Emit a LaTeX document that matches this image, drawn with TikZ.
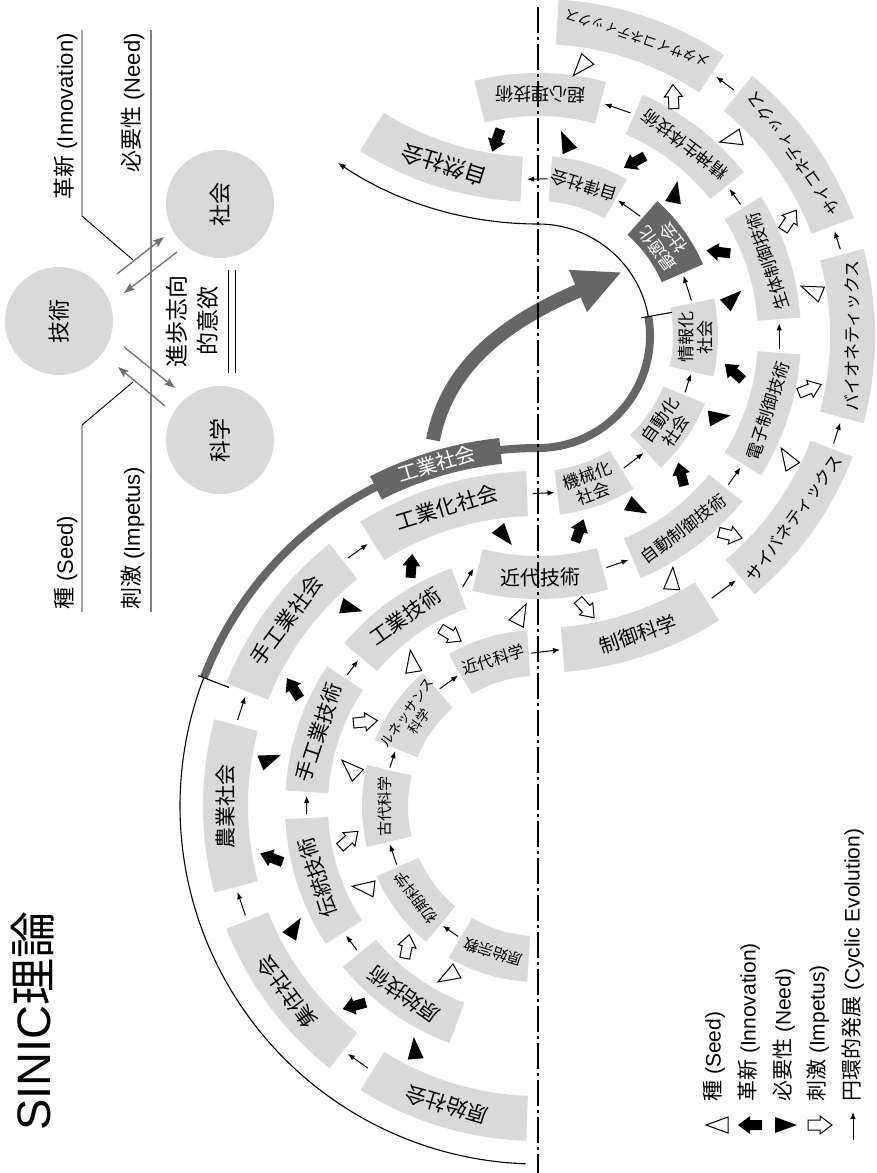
\documentclass[tikz,border=0pt]{standalone}
\usepackage{fontspec}
\setmainfont{Liberation Sans}
\newfontfamily\jp{Noto Sans CJK JP}
\usetikzlibrary{arrows.meta}
\definecolor{boxgray}{RGB}{217,217,217}
\definecolor{darkg}{RGB}{102,102,102}
\definecolor{arrg}{RGB}{112,112,112}
\newcommand\fsz[1]{\fontsize{#1}{#1}\selectfont}
\newcommand\fszl[2]{\fontsize{#1}{#2}\selectfont}
\tikzset{
  boxfill/.style={fill=boxgray},
  boxtext/.style={inner sep=0pt, align=center, text=black},
  evo/.style={line width=1pt, -{Latex[length=7pt,width=5.5pt]}},
  legarr/.style={arrg, line width=1.3pt, -{Stealth[length=11pt,width=8pt,inset=2pt]}},
  seedmk/.pic={\draw[line width=1pt, fill=white, line join=miter] (11,0) -- (-11,8) -- (-11,-8) -- cycle;},
  needmk/.pic={\fill[black] (11,0) -- (-11,8) -- (-11,-8) -- cycle;},
  innmk/.pic={\fill[black] (12,0) -- (0,9) -- (0,5) -- (-12,5) -- (-12,-5) -- (0,-5) -- (0,-9) -- cycle;},
  impmk/.pic={\draw[line width=1pt, fill=white, line join=miter] (12,0) -- (0,9) -- (0,5) -- (-12,5) -- (-12,-5) -- (0,-5) -- (0,-9) -- cycle;},
}
\newcommand\ringbox[9]{%
  \pgfmathsetmacro\rbA{#3-#4}%
  \pgfmathsetmacro\rbB{#3+#4}%
  \pgfmathsetmacro\rbM{(#5+#6)/2}%
  \pgfmathsetmacro\rbR{#3+#7}%
  \fill[boxfill] ([shift={(\rbA:#5pt)}]#2) arc[start angle=\rbA, end angle=\rbB, radius=#5pt]
    -- ([shift={(\rbB:#6pt)}]#2) arc[start angle=\rbB, end angle=\rbA, radius=#6pt] -- cycle;
  \node[boxtext, font=#8, rotate=\rbR] (#1) at ([shift={(#3:\rbM pt)}]#2) {#9};}
\newcommand\rarr[4]{\draw[evo] ([shift={(#2:#4pt)}]#1) -- ([shift={(#3:#4pt)}]#1);}
\newcommand\mkA[3]{\path ([shift={(#2:#3pt)}]C1) pic[rotate={#2-32}] {#1};}
\newcommand\mkB[3]{\path ([shift={(#2:#3pt)}]C1) pic[rotate={#2+212}] {#1};}
\newcommand\mkC[3]{\path ([shift={(#2:#3pt)}]C2) pic[rotate={#2+32}] {#1};}
\newcommand\mkD[3]{\path ([shift={(#2:#3pt)}]C2) pic[rotate={#2+148}] {#1};}
\begin{document}
\begin{tikzpicture}[x=1pt,y=1pt]
\useasboundingbox (0,0) rectangle (877,-1173);
\fill[white] (0,0) rectangle (877,-1173);
\coordinate (C1) at (538,-806);
\coordinate (C2) at (538,-336);
\coordinate (C3) at (538,134);

% ---------- ring boxes, first half (C1) ----------
\ringbox{s1}{C1}{253}{15}{290}{335}{-90}{\jp\fsz{21}}{原始社会}
\ringbox{s2}{C1}{216.5}{15}{290}{335}{-90}{\jp\fsz{21}}{集住社会}
\ringbox{s3}{C1}{180}{15}{290}{335}{-90}{\jp\fsz{21}}{農業社会}
\ringbox{s4}{C1}{143.5}{15}{290}{335}{-90}{\jp\fsz{21}}{手工業社会}
\ringbox{s5}{C1}{107}{15}{290}{335}{-90}{\jp\fsz{21}}{工業化社会}
\ringbox{t1}{C1}{234.5}{15}{210}{253}{-90}{\jp\fsz{20.5}}{原始技術}
\ringbox{t2}{C1}{198}{15}{210}{253}{-90}{\jp\fsz{20.5}}{伝統技術}
\ringbox{t3}{C1}{161.5}{15}{210}{253}{-90}{\jp\fsz{20.5}}{手工業技術}
\ringbox{t4}{C1}{125}{15}{210}{253}{-90}{\jp\fsz{20.5}}{工業技術}
\ringbox{k1}{C1}{253}{13.5}{130}{176}{-90}{\jp\fsz{15}}{原始宗教}
\ringbox{k2}{C1}{217}{13.5}{130}{176}{-90}{\jp\fsz{15}}{初期科学}
\ringbox{k3}{C1}{180}{13.5}{130}{176}{-90}{\jp\fsz{15}}{古代科学}
\ringbox{k4}{C1}{144.5}{13.5}{130}{176}{-90}{\jp\fszl{13.5}{15}}{ルネッサンス\\科学}
\ringbox{k5}{C1}{107}{13.5}{130}{176}{-90}{\jp\fsz{16}}{近代科学}

% ---------- ring boxes, second half (C2) ----------
\ringbox{s6}{C2}{289.5}{12.5}{135}{180}{90}{\jp\fszl{17}{19}}{機械化\\社会}
\ringbox{s7}{C2}{325.5}{12.5}{135}{180}{90}{\jp\fszl{17}{19}}{自動化\\社会}
\ringbox{s8}{C2}{359.5}{12.5}{135}{180}{90}{\jp\fszl{17}{19}}{情報化\\社会}
\ringbox{s10}{C2}{73}{12.5}{135}{180}{90}{\jp\fsz{17}}{自律社会}
\begin{scope}[boxfill/.style={fill=darkg}, boxtext/.append style={text=white}]
\ringbox{s9}{C2}{36}{12.5}{135}{180}{90}{\jp\fszl{17}{19}}{最適化\\社会}
\end{scope}
\ringbox{t5}{C2}{270.5}{15}{220}{263}{90}{\jp\fsz{20}}{近代技術}
\ringbox{t6}{C2}{307}{14}{220}{263}{90}{\jp\fsz{17}}{自動制御技術}
\ringbox{t7}{C2}{342}{14}{220}{263}{90}{\jp\fsz{17}}{電子制御技術}
\ringbox{t8}{C2}{18}{14}{220}{263}{90}{\jp\fsz{17}}{生体制御技術}
\ringbox{t9}{C2}{52.5}{14}{220}{263}{90}{\jp\fsz{17}}{精神生体技術}
\ringbox{t10}{C2}{89.5}{14.5}{220}{263}{90}{\jp\fsz{18}}{超心理技術}
\ringbox{k6}{C2}{288.5}{14}{292}{337}{90}{\jp\fsz{20}}{制御科学}
\ringbox{k7}{C2}{324.5}{14.5}{292}{337}{90}{\jp\fsz{17}}{サイバネティックス}
\ringbox{k8}{C2}{0}{15}{292}{337}{90}{\jp\fsz{17}}{バイオネティックス}
\ringbox{k9}{C2}{35.5}{15}{292}{337}{90}{\jp\fsz{16.5}}{サイコネティックス}
\ringbox{k10}{C2}{71.5}{15}{292}{337}{90}{\jp\fsz{14}}{メタサイコネティックス}

% ---------- third turn (C3) ----------
\ringbox{s11}{C3}{252.5}{14.5}{291}{336}{-90}{\jp\fsz{22}}{自然社会}

% ---------- cyclic evolution line ----------
\draw[line width=1.1pt] ([shift={(268:358pt)}]C1) arc[start angle=268, end angle=159, radius=358pt];
\draw[darkg, line width=8pt] ([shift={(159:358pt)}]C1) arc[start angle=159, end angle=116, radius=358pt];
\draw[darkg, line width=8pt] ([shift={(97:358pt)}]C1) arc[start angle=97, end angle=90, radius=358pt]
   arc[start angle=270, end angle=370, radius=112pt];
\draw[line width=1.1pt, -{Latex[length=8pt,width=6pt]}] ([shift={(10:112pt)}]C2) arc[start angle=10, end angle=90, radius=112pt]
   arc[start angle=270, end angle=236, radius=358pt];
\draw[line width=1.1pt] ([shift={(159:331pt)}]C1) -- ([shift={(159:364pt)}]C1);
\draw[line width=1.1pt] ([shift={(10:105pt)}]C2) -- ([shift={(10:136pt)}]C2);
\begin{scope}[boxfill/.style={fill=darkg}, boxtext/.append style={text=white}]
\ringbox{ind}{C1}{106.5}{10.5}{344}{370}{-90}{\jp\fsz{20}}{工業社会}
\end{scope}
\draw[darkg, line width=14pt, -{Triangle[length=48pt,width=42pt]}] (433,-440) .. controls (448,-360) and (515,-318) .. (622,-272);

% ---------- thin arrows along rings ----------
\rarr{C1}{237}{232.5}{312.5}
\rarr{C1}{200.5}{196}{312.5}
\rarr{C1}{164}{159.5}{312.5}
\rarr{C1}{127.5}{123}{312.5}
\draw[evo] ([shift={(91:312.5pt)}]C1) -- ([shift={(276:157.5pt)}]C2);
\rarr{C2}{303}{312}{157.5}
\rarr{C2}{339}{346}{157.5}
\rarr{C2}{13}{22.5}{157.5}
\rarr{C2}{49.5}{59.5}{157.5}
\draw[evo] ([shift={(86.5:157.5pt)}]C2) -- ([shift={(268:313.5pt)}]C3);
\rarr{C1}{218.5}{214}{231.5}
\rarr{C1}{182}{177.5}{231.5}
\rarr{C1}{145.5}{141}{231.5}
\draw[evo] ([shift={(109:231.5pt)}]C1) -- ([shift={(254.5:241.5pt)}]C2);
\rarr{C2}{286.5}{292}{241.5}
\rarr{C2}{322}{327}{241.5}
\rarr{C2}{357}{363}{241.5}
\rarr{C2}{33}{37.5}{241.5}
\rarr{C2}{67.5}{74}{241.5}
\rarr{C1}{238.5}{231.5}{153}
\rarr{C1}{202.5}{194.5}{153}
\rarr{C1}{165.5}{159}{153}
\rarr{C1}{130}{121.5}{153}
\draw[evo] ([shift={(92.5:153pt)}]C1) -- ([shift={(274:314.5pt)}]C2);
\rarr{C2}{303.5}{309}{314.5}
\rarr{C2}{340}{344}{314.5}
\rarr{C2}{16}{19.5}{314.5}
\rarr{C2}{51.5}{55.5}{314.5}

% ---------- markers ----------
\mkB{needmk}{243}{271.5}\mkB{needmk}{206.5}{271.5}\mkB{needmk}{170}{271.5}\mkB{needmk}{133.3}{271.5}\mkB{needmk}{97}{271.5}
\mkA{innmk}{227.4}{271.5}\mkA{innmk}{191}{271.5}\mkA{innmk}{154.3}{271.5}\mkA{innmk}{117.8}{271.5}
\mkD{innmk}{282}{199}\mkD{innmk}{316}{199}\mkD{innmk}{349.6}{199}\mkD{innmk}{25}{199}\mkD{innmk}{61}{199}\mkD{innmk}{102}{200}
\mkC{needmk}{300}{199}\mkC{needmk}{336}{199}\mkC{needmk}{11}{199}\mkC{needmk}{46.4}{199}\mkC{needmk}{82}{197}
\mkA{seedmk}{242}{193}\mkA{seedmk}{205}{193}\mkA{seedmk}{168.5}{192}\mkA{seedmk}{131}{192}\mkA{seedmk}{95}{193}
\mkB{impmk}{227}{192}\mkB{impmk}{190}{192}\mkB{impmk}{154}{192}\mkB{impmk}{117}{192}
\mkC{impmk}{280}{277}\mkC{impmk}{314}{277}\mkC{impmk}{349}{277}\mkC{impmk}{24.7}{277}\mkC{impmk}{60.5}{275}
\mkD{seedmk}{299}{277}\mkD{seedmk}{334}{277}\mkD{seedmk}{9.5}{277}\mkD{seedmk}{45.6}{275}\mkD{seedmk}{81}{272}

% ---------- axis ----------
\draw[line width=1.1pt, dash pattern=on 26pt off 4pt on 3pt off 4pt] (538,-7) -- (538,-1173);

% ---------- top-left legend ----------
\draw[gray, line width=1.5pt] (151,-30) -- (151,-612);
\draw[line width=0.9pt] (82,-30) -- (82,-216) -- (133,-260);
\draw[line width=0.9pt] (82,-612) -- (82,-425) -- (133,-382);
\node[circle, fill=boxgray, minimum size=108pt, inner sep=0pt, font=\jp\fsz{22}, rotate=90] (ctech) at (59,-321) {技術};
\node[circle, fill=boxgray, minimum size=108pt, inner sep=0pt, font=\jp\fsz{22}, rotate=90] (csoc) at (220,-204) {社会};
\node[circle, fill=boxgray, minimum size=108pt, inner sep=0pt, font=\jp\fsz{22}, rotate=90] (csci) at (220,-440) {科学};
\draw[legarr] (117,-274) -- (164,-237);
\draw[legarr] (177,-252) -- (124,-293);
\draw[legarr] (124,-347) -- (175,-388);
\draw[legarr] (165,-406) -- (118,-367);
\node[rotate=90, font=\jp\fszl{23}{31}, align=center, inner sep=0pt] (prog) at (192,-321) {進歩志向\\的意欲};
\draw[line width=1pt] (228,-270) -- (228,-373);
\draw[line width=1pt] (235,-270) -- (235,-373);
\node[rotate=90, anchor=east, inner sep=0pt, font=\fsz{22}] (lInn) at (66,-33) {{\jp 革新} (Innovation)};
\node[rotate=90, anchor=east, inner sep=0pt, font=\fsz{22}] (lNeed) at (133,-33) {{\jp 必要性} (Need)};
\node[rotate=90, anchor=west, inner sep=0pt, font=\fsz{22}] (lSeed) at (66,-610) {{\jp 種} (Seed)};
\node[rotate=90, anchor=west, inner sep=0pt, font=\fsz{22}] (lImp) at (133,-610) {{\jp 刺激} (Impetus)};

% ---------- title ----------
\node[rotate=90, anchor=west, inner sep=0pt, font=\fsz{47}] (title) at (33,-1131) {SINIC{\jp 理論}};

% ---------- bottom legend ----------
\path (717,-1125) pic[rotate=180] {seedmk};
\path (750,-1125) pic[rotate=180] {innmk};
\path (786,-1125) pic {needmk};
\path (820,-1125) pic {impmk};
\coordinate (lgA) at (853,-1140);
\coordinate (lgB) at (853,-1112);
\draw[evo] (lgA) -- (lgB);
\node[rotate=90, anchor=west, inner sep=0pt, font=\fsz{21}] (lg1) at (714,-1102) {{\jp 種} (Seed)};
\node[rotate=90, anchor=west, inner sep=0pt, font=\fsz{21}] (lg2) at (749,-1102) {{\jp 革新} (Innovation)};
\node[rotate=90, anchor=west, inner sep=0pt, font=\fsz{21}] (lg3) at (784,-1102) {{\jp 必要性} (Need)};
\node[rotate=90, anchor=west, inner sep=0pt, font=\fsz{21}] (lg4) at (818,-1102) {{\jp 刺激} (Impetus)};
\node[rotate=90, anchor=west, inner sep=0pt, font=\fsz{21}] (lg5) at (853,-1102) {{\jp 円環的発展} (Cyclic Evolution)};
\end{tikzpicture}
\end{document}
